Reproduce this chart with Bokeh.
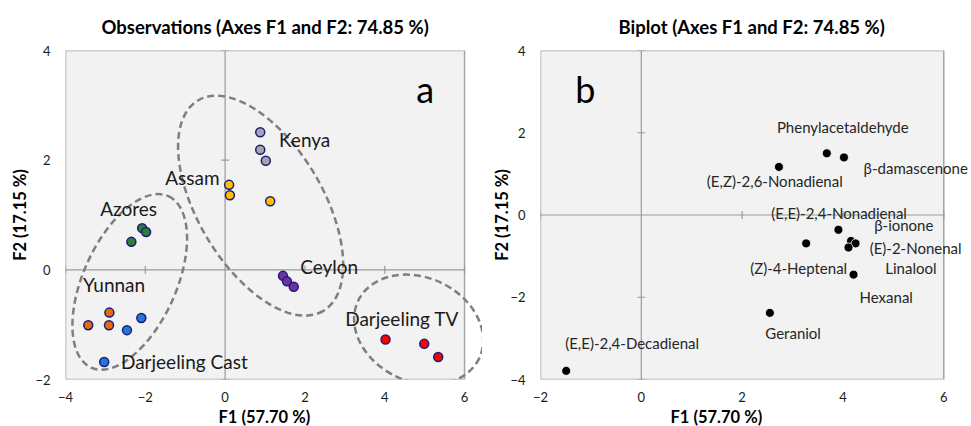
import numpy as np
from bokeh.plotting import figure
from bokeh.models import ColumnDataSource, LabelSet, Label, FixedTicker, Title
from bokeh.layouts import row
from bokeh.embed import file_html
from bokeh.resources import INLINE
from bokeh.core.properties import value

# ---------------- Panel a: observations ----------------
group_names = ["Kenya", "Assam", "Azores", "Ceylon", "Yunnan", "Darjeeling Cast", "Darjeeling TV"]
group_colors = ["#a6a6a6", "#ffc000", "#2f7d32", "#7030a0", "#e26b0a", "#1f78d1", "#ff0000"]
group_label_x = [1.35, -1.50, -3.13, 1.88, -3.56, -2.61, 3.01]
group_label_y = [2.38, 1.69, 1.11, 0.06, -0.27, -1.68, -0.88]

obs_group = (["Kenya"] * 3 + ["Assam"] * 3 + ["Azores"] * 3 + ["Ceylon"] * 3
             + ["Yunnan"] * 3 + ["Darjeeling Cast"] * 3 + ["Darjeeling TV"] * 3)
obs_f1 = [0.88, 0.88, 1.02, 0.10, 0.12, 1.13, -2.08, -1.98, -2.35, 1.45, 1.55, 1.72,
          -2.90, -3.43, -2.91, -2.10, -2.46, -3.03, 4.02, 4.99, 5.34]
obs_f2 = [2.51, 2.19, 1.99, 1.55, 1.36, 1.25, 0.76, 0.69, 0.51, -0.11, -0.21, -0.31,
          -0.78, -1.01, -1.01, -0.88, -1.10, -1.68, -1.27, -1.35, -1.59]

# group ellipses (centre in data units, full axes in px, tilt in degrees)
ell_cx = [0.89, -2.39, 4.85]
ell_cy = [1.17, -0.22, -1.09]
ell_w = [245, 188, 134]
ell_h = [125, 93, 104]
ell_deg = [-59.2, 65.75, -25.2]

# ---------------- Panel b: biplot variables ----------------
var_names = ["(E,Z)-2,6-Nonadienal", "Phenylacetaldehyde", "β-damascenone", "(E,E)-2,4-Nonadienal",
             "(Z)-4-Heptenal", "β-ionone", "(E)-2-Nonenal", "Linalool", "Hexanal", "Geraniol",
             "(E,E)-2,4-Decadienal"]
var_f1 = [2.73, 3.68, 4.02, 3.91, 3.27, 4.16, 4.25, 4.11, 4.21, 2.55, -1.49]
var_f2 = [1.17, 1.50, 1.40, -0.36, -0.69, -0.63, -0.69, -0.79, -1.45, -2.38, -3.79]
var_label_x = [1.30, 2.69, 4.41, 2.58, 2.16, 4.62, 4.53, 4.84, 4.33, 2.46, -1.51]
var_label_y = [0.83, 2.15, 1.15, 0.06, -1.30, -0.25, -0.81, -1.28, -2.00, -2.87, -3.11]

xticks_a = [-4, -2, 0, 2, 4, 6]
yticks_a = [-2, 0, 2, 4]
xticks_b = [-2, 0, 2, 4, 6]
yticks_b = [-4, -2, 0, 2, 4]

FONT = "Lato"
H = 426
GRAY = "#9a9a9a"


def make_fig(title, title_off, xlab_off, x_end, xt, yt, width, bl, ylab_standoff):
    p = figure(width=width, height=H, x_range=(xt[0], x_end), y_range=(yt[0], yt[-1]),
               output_backend="svg", toolbar_location=None,
               min_border_left=bl, min_border_right=0, min_border_top=0, min_border_bottom=0)
    p.title.text = title
    p.title.align = "left"
    p.title.offset = title_off
    p.title.standoff = 26
    p.title.text_font = FONT
    p.title.text_font_size = "18.5px"
    p.title.text_font_style = "bold"
    p.title.text_color = "#000000"
    p.background_fill_color = "white"
    p.border_fill_color = "white"
    p.outline_line_color = None
    p.grid.visible = False
    p.xaxis.ticker = FixedTicker(ticks=xt)
    p.yaxis.ticker = FixedTicker(ticks=yt)
    for ax in (p.xaxis, p.yaxis):
        ax.axis_line_color = None
        ax.major_tick_line_color = None
        ax.minor_tick_line_color = None
        ax.major_tick_out = 0
        ax.major_tick_in = 0
        ax.minor_tick_out = 0
        ax.major_label_text_font = FONT
        ax.major_label_text_font_size = "13px"
        ax.major_label_text_color = "#1a1a1a"
        ax.axis_label_text_font = FONT
        ax.axis_label_text_font_size = "16.5px"
        ax.axis_label_text_font_style = "bold"
        ax.axis_label_text_color = "#000000"
    p.yaxis.axis_label = "F2 (17.15 %)"
    p.xaxis.major_label_standoff = 12
    p.yaxis.major_label_standoff = 15
    p.yaxis.axis_label_standoff = ylab_standoff
    p.add_layout(Title(text="F1 (57.70 %)", align="left", offset=xlab_off, text_font=FONT,
                       text_font_size="16.5px", text_font_style="bold", text_color="#000000",
                       standoff=0), "below")
    # plot area
    p.quad(left=xt[0], right=xt[-1], bottom=yt[0], top=yt[-1], fill_color="#f2f2f2",
           line_color="#a6a6a6", line_width=1.5)
    # central axes through the origin
    p.segment(x0=xt[0], y0=0, x1=xt[-1], y1=0, line_color=GRAY, line_width=1.2)
    p.segment(x0=0, y0=yt[0], x1=0, y1=yt[-1], line_color=GRAY, line_width=1.2)
    xs_t = [v for v in xt if v != 0]
    ys_t = [v for v in yt if v != 0]
    p.scatter(x=xs_t, y=[0] * len(xs_t), marker="dash", angle=np.pi / 2, size=8,
              line_color=GRAY, line_width=1.2)
    p.scatter(x=[0] * len(ys_t), y=ys_t, marker="dash", size=8, line_color=GRAY, line_width=1.2)
    return p


# ---------------- figure a ----------------
pa = make_fig("Observations (Axes F1 and F2: 74.85 %)", 36, 153, 6.45, xticks_a, yticks_a,
              482, 65, 2)
pa.ellipse(x=ell_cx, y=ell_cy, width=ell_w, height=ell_h, angle=np.deg2rad(ell_deg),
           width_units="screen", height_units="screen", fill_color=None,
           line_color="#7f7f7f", line_width=2.5, line_dash="7 4")

color_map = dict(zip(group_names, group_colors))
src_a = ColumnDataSource(dict(x=obs_f1, y=obs_f2, c=[color_map[g] for g in obs_group]))
pa.scatter("x", "y", source=src_a, size=9, fill_color="c", line_color="#1c1c80", line_width=1.5)

lab_a = ColumnDataSource(dict(x=group_label_x, y=group_label_y, t=group_names))
pa.add_layout(LabelSet(x="x", y="y", text="t", source=lab_a, text_font=value(FONT),
                       text_font_size="19px", text_color="#1a1a1a", text_baseline="middle",
                       text_align="left"))
pa.add_layout(Label(x=4.79, y=3.29, text="a", text_font=FONT, text_font_size="36px",
                    text_color="#000000", text_baseline="alphabetic"))

# ---------------- figure b ----------------
pb = make_fig("Biplot (Axes F1 and F2: 74.85 %)", 78, 130, 6.55, xticks_b, yticks_b,
              489, 58, -5)
src_b = ColumnDataSource(dict(x=var_f1, y=var_f2))
pb.scatter("x", "y", source=src_b, size=9, fill_color="black", line_color="white", line_width=0.8)
lab_b = ColumnDataSource(dict(x=var_label_x, y=var_label_y, t=var_names))
pb.add_layout(LabelSet(x="x", y="y", text="t", source=lab_b, text_font=value(FONT),
                       text_font_size="15px", text_color="#262626", text_baseline="middle",
                       text_align="left"))
pb.add_layout(Label(x=-1.31, y=3.07, text="b", text_font=FONT, text_font_size="36px",
                    text_color="#000000", text_baseline="alphabetic"))

layout = row(pa, pb)
open("out.html", "w").write(file_html(layout, INLINE))
